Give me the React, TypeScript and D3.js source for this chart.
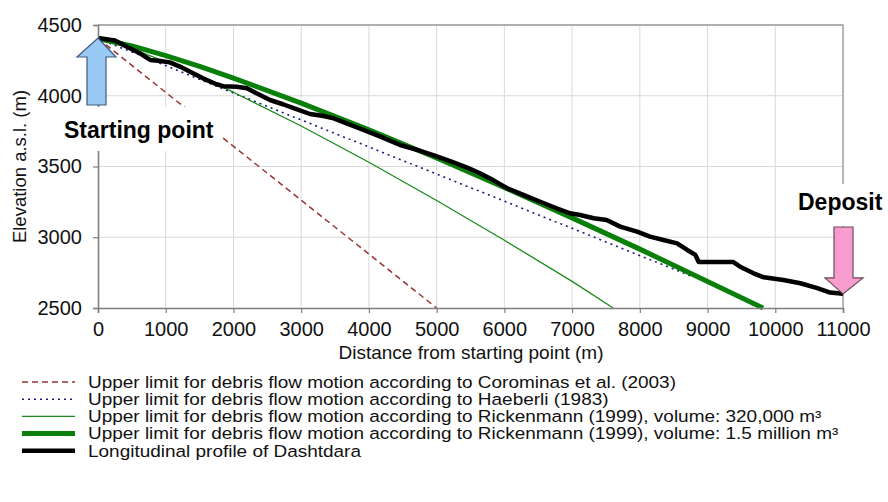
import React, { useRef, useEffect } from 'react'
import * as d3 from 'd3'

// axis ticks
const distTicks = [0, 1000, 2000, 3000, 4000, 5000, 6000, 7000, 8000, 9000, 10000, 11000]
const elevTicks = [2500, 3000, 3500, 4000, 4500]

// longitudinal profile of Dashtdara
const profileDist = [0, 250, 470, 620, 770, 920, 1060, 1210, 1360, 1550, 1750, 1850, 2050, 2200, 2340, 2540, 2730, 2930, 3130, 3330, 3480, 3670, 3920, 4170, 4460, 4710, 4950, 5200, 5450, 5640, 5840, 6040, 6280, 6530, 6770, 6970, 7120, 7320, 7510, 7710, 7960, 8150, 8350, 8550, 8700, 8820, 8870, 9380, 9480, 9680, 9830, 10120, 10370, 10620, 10810, 11000]
const profileElev = [4408, 4390, 4335, 4300, 4253, 4246, 4236, 4206, 4170, 4123, 4081, 4068, 4064, 4053, 4017, 3970, 3940, 3905, 3871, 3857, 3840, 3805, 3758, 3711, 3652, 3617, 3581, 3538, 3492, 3452, 3402, 3346, 3299, 3251, 3205, 3169, 3157, 3134, 3122, 3075, 3040, 3004, 2981, 2957, 2910, 2875, 2825, 2825, 2792, 2745, 2717, 2698, 2675, 2640, 2609, 2600]

// Corominas et al. (2003)
const corominasDist = [0, 5000]
const corominasElev = [4405, 2500]

// Haeberli (1983)
const haeberliDist = [0, 2000, 4000, 6000, 8800]
const haeberliElev = [4405, 4020, 3638, 3255, 2717]

// Rickenmann (1999), 320,000 m3
const rick320Dist = [0, 500, 1000, 1500, 2000, 3000, 4000, 5000, 6000, 7000, 7607]
const rick320Elev = [4405, 4333, 4240, 4135, 4025, 3786, 3530, 3260, 2979, 2688, 2500]

// Rickenmann (1999), 1.5 million m3
const rick15Dist = [0, 500, 1000, 1500, 2000, 3000, 4000, 5000, 6000, 7000, 8000, 9000, 9820]
const rick15Elev = [4405, 4352, 4283, 4207, 4125, 3948, 3760, 3560, 3352, 3137, 2916, 2688, 2500]

const legendLabels = [
  'Upper limit for debris flow motion according to Corominas et al. (2003)',
  'Upper limit for debris flow motion according to Haeberli (1983)',
  'Upper limit for debris flow motion according to Rickenmann (1999), volume: 320,000 m³',
  'Upper limit for debris flow motion according to Rickenmann (1999), volume: 1.5 million m³',
  'Longitudinal profile of Dashtdara',
]

const FONT = '"Liberation Sans", Arial, sans-serif'

const Chart = () => {
  const svgRef = useRef<SVGSVGElement>(null)

  useEffect(() => {
    const svg = d3.select(svgRef.current)
    svg.selectAll('*').remove()

    const x = d3.scaleLinear().domain([0, 11000]).range([98, 843])
    const y = d3.scaleLinear().domain([2500, 4500]).range([308, 25])

    const series = [
      { d: corominasDist, e: corominasElev, color: '#993333', width: 1.5, dash: '6,4' },
      { d: haeberliDist, e: haeberliElev, color: '#1a1a80', width: 1.6, dash: '2,4' },
      { d: rick320Dist, e: rick320Elev, color: '#1a8a1a', width: 1.3, dash: null },
      { d: rick15Dist, e: rick15Elev, color: '#0a7f0a', width: 5, dash: null },
      { d: profileDist, e: profileElev, color: '#000', width: 4.5, dash: null },
    ]

    // gridlines
    const grid = svg.append('g')
    grid.selectAll('.vg').data(distTicks.slice(1)).join('line')
      .attr('x1', d => x(d)).attr('x2', d => x(d))
      .attr('y1', y(4500)).attr('y2', y(2500))
      .attr('stroke', '#d9d9d9').attr('stroke-width', 1)
    grid.selectAll('.hg').data(elevTicks.slice(1)).join('line')
      .attr('x1', x(0)).attr('x2', x(11000))
      .attr('y1', d => y(d)).attr('y2', d => y(d))
      .attr('stroke', '#d9d9d9').attr('stroke-width', 1)

    // top / right frame
    svg.append('path')
      .attr('d', `M${x(0)},${y(4500)}H${x(11000)}V${y(2500)}`)
      .attr('fill', 'none').attr('stroke', '#9a9a9a').attr('stroke-width', 1.3)

    const line = d3.line<[number, number]>().x(p => x(p[0])).y(p => y(p[1]))

    series.forEach(s => {
      svg.append('path')
        .attr('d', line(s.d.map((v, i) => [v, s.e[i]] as [number, number])))
        .attr('fill', 'none')
        .attr('stroke', s.color)
        .attr('stroke-width', s.width)
        .attr('stroke-dasharray', s.dash)
        .attr('stroke-linejoin', 'round')
    })

    // axes
    const xAxis = d3.axisBottom(x).tickValues(distTicks).tickSize(5).tickPadding(9).tickFormat(d => String(d))
    const yAxis = d3.axisLeft(y).tickValues(elevTicks).tickSize(5).tickPadding(11).tickFormat(d => String(d))

    const gx = svg.append('g').attr('transform', `translate(0,${y(2500)})`).call(xAxis)
    const gy = svg.append('g').attr('transform', `translate(${x(0)},0)`).call(yAxis)
    ;[gx, gy].forEach(g => {
      g.select('.domain').attr('stroke', '#7f7f7f').attr('stroke-width', 1.6)
      g.selectAll('.tick line').attr('stroke', '#7f7f7f').attr('stroke-width', 1.2)
      g.selectAll('.tick text').attr('fill', '#111').style('font-family', FONT).style('font-size', '20px')
    })

    // axis titles
    svg.append('text')
      .attr('x', 471).attr('y', 359)
      .attr('text-anchor', 'middle')
      .style('font-family', FONT).style('font-size', '19px').attr('fill', '#111')
      .text('Distance from starting point (m)')
    svg.append('text')
      .attr('transform', `translate(26,${(y(4500) + y(2500)) / 2}) rotate(-90)`)
      .attr('text-anchor', 'middle')
      .style('font-family', FONT).style('font-size', '18.5px').attr('fill', '#111')
      .text('Elevation a.s.l. (m)')

    // annotation labels with white boxes
    svg.append('rect').attr('x', 60).attr('y', 107).attr('width', 162).attr('height', 44).attr('fill', '#fff')
    svg.append('text')
      .attr('x', 64).attr('y', 138)
      .style('font-family', FONT).style('font-size', '23px').style('font-weight', 'bold')
      .text('Starting point')
    svg.append('rect').attr('x', 795).attr('y', 184).attr('width', 93).attr('height', 42).attr('fill', '#fff')
    svg.append('text')
      .attr('x', 798).attr('y', 210)
      .style('font-family', FONT).style('font-size', '23px').style('font-weight', 'bold')
      .text('Deposit')

    // arrows
    const x0 = x(0), yS = y(profileElev[0])
    svg.append('path')
      .attr('d', `M${x0},${yS}L${x0 + 18},${yS + 19}H${x0 + 8}V105H${x0 - 11}V${yS + 19}H${x0 - 21}Z`)
      .attr('fill', '#99c9f5').attr('stroke', '#3d5a80').attr('stroke-width', 1.2)
    const x1 = x(11000), yE = y(profileElev[profileElev.length - 1])
    svg.append('path')
      .attr('d', `M${x1},${yE}L${x1 - 18},${yE - 16}H${x1 - 9}V227H${x1 + 10}V${yE - 16}H${x1 + 20}Z`)
      .attr('fill', '#f79ccc').attr('stroke', '#6a4a5a').attr('stroke-width', 1.2)

    // legend (text is a little wide in the original, hence the x stretch)
    const lg = svg.append('g')
    series.forEach((s, i) => {
      const cy = 382 + i * 17.2
      lg.append('line')
        .attr('x1', 22).attr('x2', 75).attr('y1', cy).attr('y2', cy)
        .attr('stroke', s.color).attr('stroke-width', s.width)
        .attr('stroke-dasharray', s.dash)
      lg.append('text')
        .attr('transform', `translate(88,${cy + 5.8}) scale(1.15,1)`)
        .style('font-family', FONT).style('font-size', '16.5px').attr('fill', '#111')
        .text(legendLabels[i])
    })
  }, [])

  return (
    <svg ref={svgRef} width={888} height={502}
      style={{ position: 'absolute', left: 0, top: 0, background: '#fff' }} />
  )
}

export default function App() {
  return <Chart />
}
